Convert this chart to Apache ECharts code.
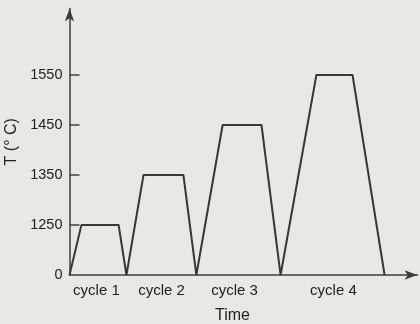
<!DOCTYPE html>
<html>
<head>
<meta charset="utf-8">
<script src="https://cdn.jsdelivr.net/npm/echarts@6/dist/echarts.min.js"></script>
<style>
  html, body { margin: 0; padding: 0; background: #e8e8e5; }
  #chart { width: 420px; height: 324px; }
</style>
</head>
<body>
<div id="chart"></div>
<script>
// Temperature programme: four heating cycles with increasing hold temperature.
const time = [0, 3.5, 14.4, 16.7, 21.7, 33.4, 37.2, 44.9, 56.3, 61.9, 72.4, 83.0, 92.4];
const temp = [0, 1250, 1250, 0, 1350, 1350, 0, 1450, 1450, 0, 1550, 1550, 0];

// Tick labels of the (broken) temperature axis, equally spaced.
const tempTicks = [0, 1250, 1350, 1450, 1550];

// Cycle names and the times at which they are centred.
const cycleNames = ['cycle 1', 'cycle 2', 'cycle 3', 'cycle 4'];
const cycleCentres = [7.9, 27.0, 48.4, 77.4];

// Broken axis: each tick label occupies one step; values between ticks are interpolated.
function toLevel(t) {
  for (let i = 1; i < tempTicks.length; i++) {
    if (t <= tempTicks[i]) {
      const a = tempTicks[i - 1], b = tempTicks[i];
      return i - 1 + (t - a) / (b - a);
    }
  }
  return tempTicks.length - 1;
}

const ink = '#222';
const lineInk = '#383838';
const axisInk = '#3e3e3e';
const font = 'Liberation Sans, Arial, sans-serif';

const chart = echarts.init(document.getElementById('chart'));
chart.setOption({
  backgroundColor: '#e8e8e5',
  animation: false,
  grid: { left: 69.5, right: 2.5, top: 8.5, bottom: 49, outerBoundsMode: 'none', containLabel: false },
  xAxis: {
    type: 'value',
    min: 0,
    max: 102.05,
    name: 'Time',
    nameLocation: 'middle',
    nameGap: 33,
    nameTextStyle: { color: ink, fontSize: 16, fontFamily: font, padding: [0, 22, 0, 0] },
    axisLine: {
      show: true,
      symbol: ['none', 'arrow'],
      symbolSize: [7, 13],
      lineStyle: { color: axisInk, width: 1.5 }
    },
    axisTick: { show: false },
    splitLine: { show: false },
    axisLabel: {
      customValues: cycleCentres,
      formatter: (v) => cycleNames[cycleCentres.indexOf(v)] || '',
      color: ink,
      fontSize: 15,
      fontFamily: font,
      margin: 8
    }
  },
  yAxis: {
    type: 'value',
    min: 0,
    max: 5.33,
    name: 'T (° C)',
    nameLocation: 'middle',
    nameGap: 48,
    nameTextStyle: { color: ink, fontSize: 16, fontFamily: font, padding: [0, 0, 0, 0] },
    axisLine: {
      show: true,
      symbol: ['none', 'arrow'],
      symbolSize: [7, 13],
      lineStyle: { color: axisInk, width: 1.5 }
    },
    axisTick: {
      show: true,
      inside: true,
      length: 10,
      customValues: [1, 2, 3, 4],
      lineStyle: { color: axisInk, width: 1.5 }
    },
    splitLine: { show: false },
    axisLabel: {
      customValues: [0, 1, 2, 3, 4],
      formatter: (v) => String(tempTicks[Math.round(v)]),
      color: ink,
      fontSize: 14.5,
      fontFamily: font,
      margin: 7
    }
  },
  series: [{
    type: 'line',
    data: time.map((t, i) => [t, toLevel(temp[i])]),
    symbol: 'none',
    lineStyle: { color: lineInk, width: 2 },
    z: 3
  }]
});
</script>
</body>
</html>
